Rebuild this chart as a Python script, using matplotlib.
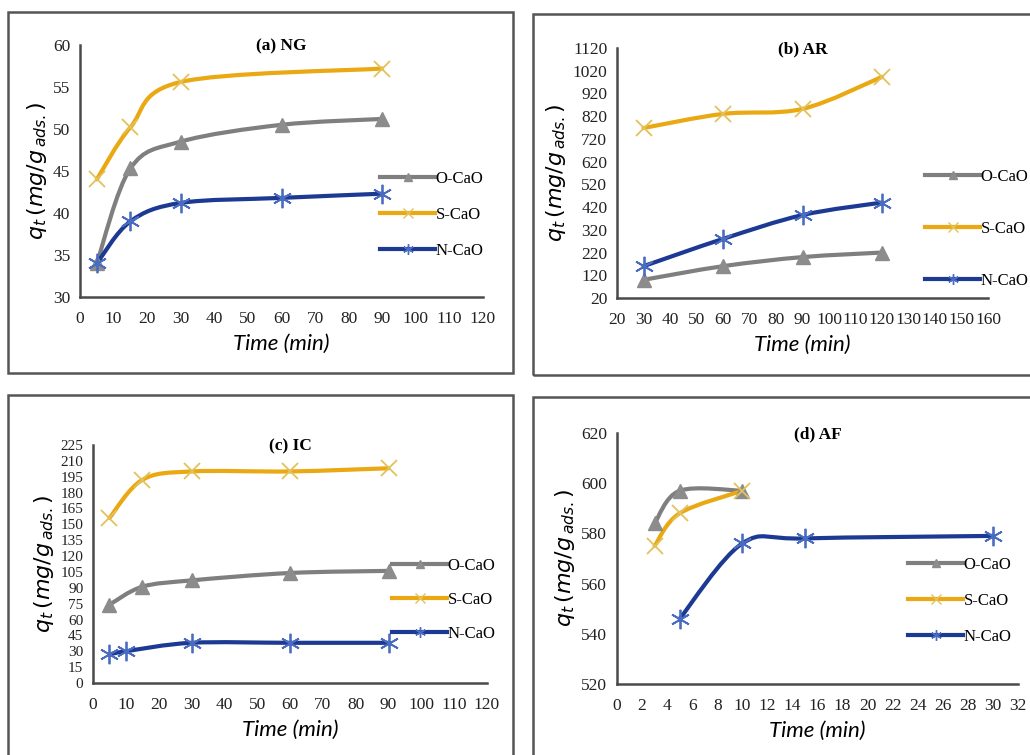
import matplotlib.pyplot as plt
import numpy as np
from matplotlib.path import Path
from matplotlib.patches import PathPatch, Rectangle
from matplotlib.lines import Line2D

plt.rcParams['font.family'] = ['Liberation Serif', 'DejaVu Serif']
plt.rcParams['mathtext.fontset'] = 'dejavusans'

# (a) NG
t_a_o = [5, 15, 30, 60, 90]
q_a_o = [34.0, 45.3, 48.5, 50.5, 51.2]
t_a_s = [5, 15, 30, 90]
q_a_s = [44.0, 50.2, 55.6, 57.2]
t_a_n = [5, 15, 30, 60, 90]
q_a_n = [34.0, 39.0, 41.2, 41.8, 42.3]

# (b) AR
t_b = [30, 60, 90, 120]
q_b_o = [100, 160, 200, 220]
q_b_s = [768, 830, 852, 993]
q_b_n = [160, 280, 385, 440]

# (c) IC
t_c_o = [5, 15, 30, 60, 90]
q_c_o = [74, 91, 97, 104, 106]
t_c_s = [5, 15, 30, 60, 90]
q_c_s = [156, 192, 200, 200, 203]
t_c_n = [5, 10, 30, 60, 90]
q_c_n = [27, 30, 38, 38, 38]

# (d) AF
t_d_o = [3, 5, 10]
q_d_o = [584, 597, 597]
t_d_s = [3, 5, 10]
q_d_s = [575, 588, 597]
t_d_n = [5, 10, 15, 30]
q_d_n = [546, 576, 578, 579]

series_names = ['O-CaO', 'S-CaO', 'N-CaO']

GRAY = '#7f7f7f'
ORANGE = '#eaa812'
NAVY = '#1c3a94'
W, H = 1030, 755


def fig_rect(left, top, right, bottom):
    return [left / W, 1 - bottom / H, (right - left) / W, (bottom - top) / H]


def smooth_line(ax, x, y, color, lw=3):
    # Excel-style smoothed line: cubic Bezier segments through the points
    p = np.column_stack([x, y]).astype(float)
    n = len(p)
    verts = [p[0]]
    codes = [Path.MOVETO]
    for i in range(n - 1):
        p0 = p[i - 1] if i > 0 else p[i]
        p3 = p[i + 2] if i + 2 < n else p[i + 1]
        c1 = p[i] + (p[i + 1] - p0) / 6
        c2 = p[i + 1] - (p3 - p[i]) / 6
        verts += [c1, c2, p[i + 1]]
        codes += [Path.CURVE4] * 3
    ax.add_patch(PathPatch(Path(verts, codes), facecolor='none', edgecolor=color,
                           lw=lw, capstyle='round', joinstyle='round', zorder=2))


STYLE = {
    'O-CaO': dict(color=GRAY, marker='^', mfc='#8c8c8c', mec='#8c8c8c', ms=10, mew=1),
    'S-CaO': dict(color=ORANGE, marker='x', mfc='none', mec='#e3c25c', ms=12, mew=1.3),
    'N-CaO': dict(color=NAVY, marker=(6, 2, 0), mfc='none', mec='#4a6cc0', ms=14, mew=1.3),
}


def draw(ax, name, x, y):
    st = STYLE[name]
    smooth_line(ax, x, y, st['color'])
    ax.plot(x, y, linestyle='none', marker=st['marker'], ms=st['ms'], mfc=st['mfc'],
            mec=st['mec'], mew=st['mew'], zorder=3)


def legend(ax, x_px, y_px, spacing):
    handles = []
    for name in series_names:
        st = STYLE[name]
        handles.append(Line2D([], [], color=st['color'], lw=3, marker=st['marker'],
                              ms=st['ms'] * 0.55, mfc=st['mfc'], mec=st['mec'], mew=1))
    ax.legend(handles, series_names, loc='center left',
              bbox_to_anchor=(x_px / W, 1 - y_px / H), bbox_transform=ax.figure.transFigure,
              frameon=False, fontsize=12, handlelength=3.3, handletextpad=0.05,
              labelspacing=spacing, borderpad=0, borderaxespad=0, markerfirst=True)


def style_axes(ax, title, xticks, yticks, xlim, ylim, xfs=12.5, yfs=12.5):
    ax.set_xlim(*xlim)
    ax.set_ylim(*ylim)
    ax.set_xticks(xticks)
    ax.set_yticks(yticks)
    ax.tick_params(axis='x', length=0, pad=10, colors='#222222')
    ax.tick_params(axis='y', length=0, pad=7, colors='#222222')
    for lbl in ax.get_xticklabels():
        lbl.set_fontsize(xfs)
    for lbl in ax.get_yticklabels():
        lbl.set_fontsize(yfs)
    for s in ['top', 'right']:
        ax.spines[s].set_visible(False)
    for s in ['left', 'bottom']:
        ax.spines[s].set_color('#4a4a4a')
        ax.spines[s].set_linewidth(1.8)
    ax.set_title(title, fontsize=12.5, fontweight='bold', pad=-4, y=1.0)
    ax.set_xlabel('Time (min)', family='Lato', style='italic', fontsize=16, labelpad=5)
    ax.set_ylabel(r'$q_t\,(mg/g_{\,ads.})$', fontsize=16, labelpad=3)


fig = plt.figure(figsize=(10.3, 7.55), dpi=100)

# panel frames
for l, t, r, b in [(8, 12, 513, 373), (533, 14, 1040, 375), (8, 395, 513, 765), (533, 397, 1040, 765)]:
    fig.patches.append(Rectangle((l / W, 1 - b / H), (r - l) / W, (b - t) / H,
                                 transform=fig.transFigure, fill=False,
                                 edgecolor='#555555', lw=1.8))

# (a)
ax = fig.add_axes(fig_rect(80, 45, 483, 297))
draw(ax, 'O-CaO', t_a_o, q_a_o)
draw(ax, 'S-CaO', t_a_s, q_a_s)
draw(ax, 'N-CaO', t_a_n, q_a_n)
style_axes(ax, '(a) NG', range(0, 121, 10), range(30, 61, 5), (0, 120), (30, 60))
legend(ax, 380, 215, 1.2)

# (b)
ax = fig.add_axes(fig_rect(617, 48, 988, 298))
draw(ax, 'O-CaO', t_b, q_b_o)
draw(ax, 'S-CaO', t_b, q_b_s)
draw(ax, 'N-CaO', t_b, q_b_n)
style_axes(ax, '(b) AR', range(20, 161, 10), range(20, 1121, 100), (20, 160), (20, 1120))
legend(ax, 925, 229, 2.15)

# (c)
ax = fig.add_axes(fig_rect(93, 445, 487, 683))
draw(ax, 'O-CaO', t_c_o, q_c_o)
draw(ax, 'S-CaO', t_c_s, q_c_s)
draw(ax, 'N-CaO', t_c_n, q_c_n)
style_axes(ax, '(c) IC', range(0, 121, 10), range(0, 226, 15), (0, 120), (0, 225), yfs=11)
legend(ax, 392, 600, 1.1)

# (d)
ax = fig.add_axes(fig_rect(617, 433, 1018, 684))
draw(ax, 'O-CaO', t_d_o, q_d_o)
draw(ax, 'S-CaO', t_d_s, q_d_s)
draw(ax, 'N-CaO', t_d_n, q_d_n)
style_axes(ax, '(d) AF', range(0, 33, 2), range(520, 621, 20), (0, 32), (520, 620))
legend(ax, 908, 601, 1.2)

fig.savefig('out.png', dpi=100)
